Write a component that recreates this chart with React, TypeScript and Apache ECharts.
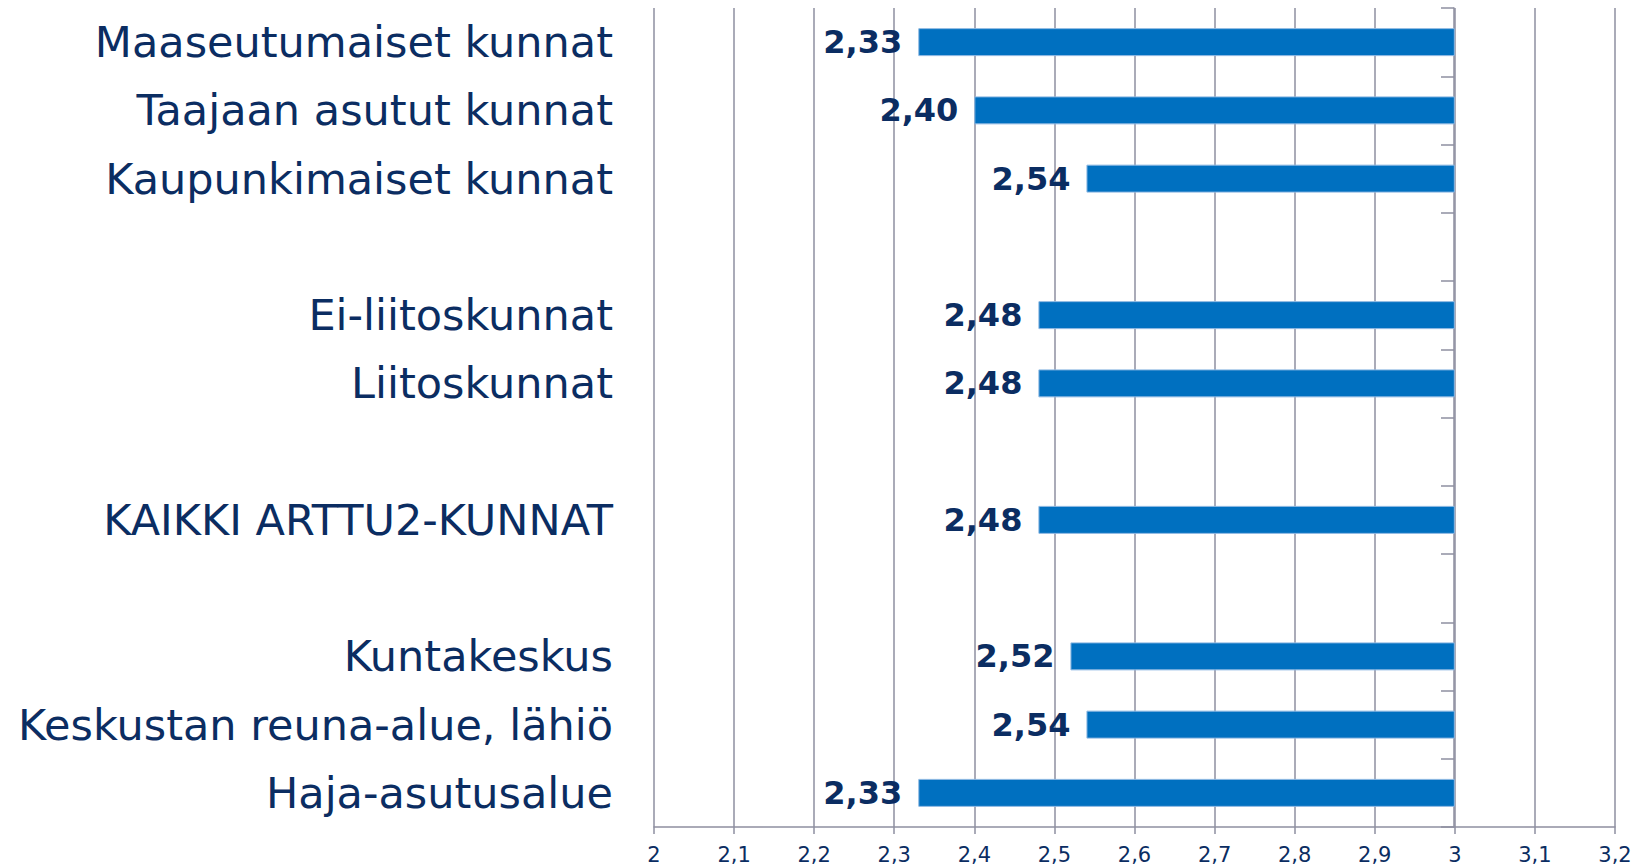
import React, { useEffect, useRef } from "react";
import * as echarts from "echarts";

const categories: string[] = [
  "Maaseutumaiset kunnat",
  "Taajaan asutut kunnat",
  "Kaupunkimaiset kunnat",
  "",
  "Ei-liitoskunnat",
  "Liitoskunnat",
  " ",
  "KAIKKI ARTTU2-KUNNAT",
  "  ",
  "Kuntakeskus",
  "Keskustan reuna-alue, lähiö",
  "Haja-asutusalue",
];

const values: (number | null)[] = [2.33, 2.4, 2.54, null, 2.48, 2.48, null, 2.48, null, 2.52, 2.54, 2.33];

const barEnd = 3;
const axisMin = 2;
const axisMax = 3.2;
const axisStep = 0.1;

const NAVY = "#0B2D62";
const GRID = "#8E8FA0";

export default function App() {
  const ref = useRef<HTMLDivElement>(null);
  useEffect(() => {
    document.body.style.margin = "0";
    if (!ref.current) return;
    const chart = echarts.init(ref.current, null, { renderer: "svg" });
    chart.setOption({
      animation: false,
      backgroundColor: "#ffffff",
      grid: { left: 654, right: 36, top: 8, bottom: 39, containLabel: false },
      xAxis: {
        type: "value",
        min: axisMin,
        max: axisMax,
        interval: axisStep,
        axisLine: { show: true, lineStyle: { color: GRID, width: 1.5 } },
        axisTick: { show: true, length: 7, lineStyle: { color: GRID, width: 1.5 } },
        splitLine: { show: true, lineStyle: { color: GRID, width: 1.5 } },
        axisLabel: {
          margin: 17,
          color: NAVY,
          fontFamily: "DejaVu Sans",
          fontSize: 21,
          formatter: (v: number) => String(Number(v.toFixed(1))).replace(".", ","),
        },
      },
      yAxis: [
        {
          type: "category",
          data: categories,
          inverse: true,
          position: "left",
          axisLine: { show: false },
          axisTick: { show: false },
          axisLabel: {
            margin: 41,
            color: NAVY,
            fontFamily: "DejaVu Sans",
            fontSize: 43,
          },
        },
        {
          type: "category",
          data: categories,
          inverse: true,
          position: "right",
          offset: -161,
          axisLine: { show: true, lineStyle: { color: GRID, width: 1.5 } },
          axisTick: { show: true, inside: true, length: 13, lineStyle: { color: GRID, width: 1.5 } },
          axisLabel: { show: false },
        },
      ],
      series: [
        {
          type: "bar",
          stack: "s",
          yAxisIndex: 0,
          barWidth: "41%",
          itemStyle: { color: "transparent" },
          data: values,
          silent: true,
        },
        {
          type: "bar",
          stack: "s",
          yAxisIndex: 0,
          barWidth: "41%",
          itemStyle: { color: "#0070C0", borderColor: "#8DB8E2", borderWidth: 1 },
          data: values.map((v) => (v == null ? null : barEnd - v)),
          label: {
            show: true,
            position: "left",
            distance: 16,
            color: NAVY,
            fontFamily: "DejaVu Sans",
            fontWeight: "bold",
            fontSize: 32,
            formatter: (p: any) => {
              const v = values[p.dataIndex];
              return v == null ? "" : v.toFixed(2).replace(".", ",");
            },
          },
        },
      ],
    });
    return () => chart.dispose();
  }, []);
  return (
    <div
      ref={ref}
      style={{ position: "absolute", left: 0, top: 0, width: 1651, height: 866 }}
    />
  );
}
